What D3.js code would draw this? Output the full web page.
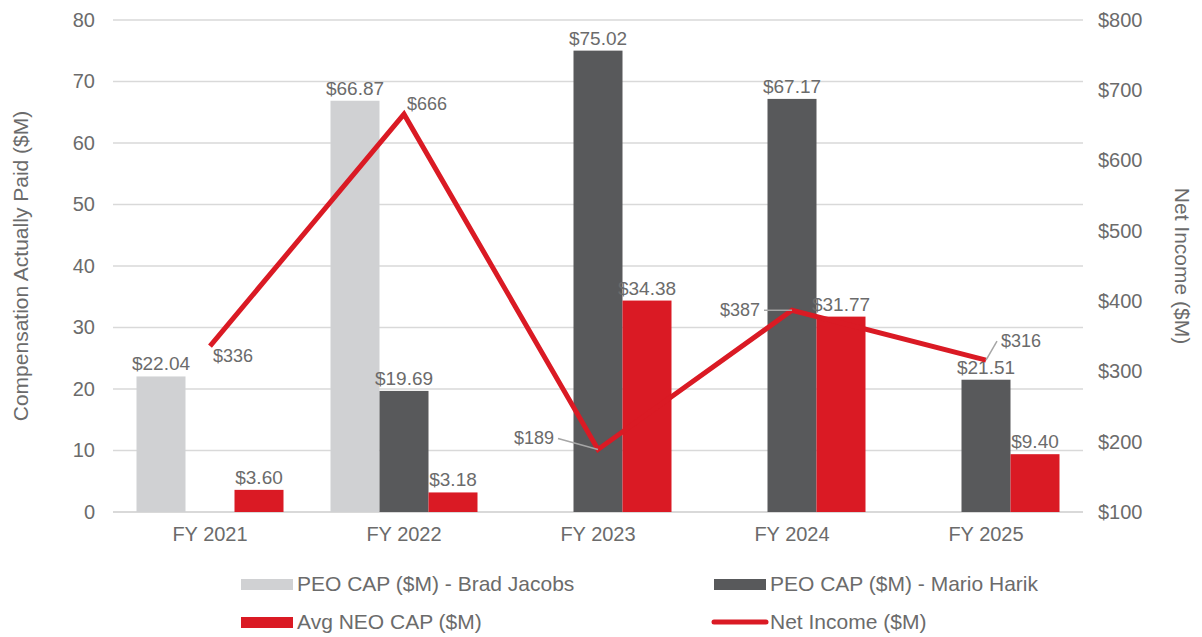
<!DOCTYPE html>
<html>
<head>
<meta charset="utf-8">
<script src="https://cdn.jsdelivr.net/npm/d3@7"></script>
<style>
  body { margin: 0; background: #fff; }
  svg text { font-family: "Liberation Sans", Arial, sans-serif; fill: #6b6b6b; }
</style>
</head>
<body>
<svg id="chart" width="1202" height="637"></svg>
<script>
// data
var years = ["FY 2021", "FY 2022", "FY 2023", "FY 2024", "FY 2025"];
var jacobs = [22.04, 66.87, null, null, null];
var harik = [null, 19.69, 75.02, 67.17, 21.51];
var avgNeo = [3.60, 3.18, 34.38, 31.77, 9.40];
var netIncome = [336, 666, 189, 387, 316];
var leftTicks = [0, 10, 20, 30, 40, 50, 60, 70, 80];
var rightTicks = [100, 200, 300, 400, 500, 600, 700, 800];

var svg = d3.select("#chart");
var plotL = 113, plotR = 1083, plotT = 20, plotB = 512;

var x = d3.scaleBand().domain(years).range([plotL, plotR]);
var y = d3.scaleLinear().domain([0, 80]).range([plotB, plotT]);
var y2 = d3.scaleLinear().domain([100, 800]).range([plotB, plotT]);
var barW = 49;

// grid
svg.append("g").selectAll("line")
  .data(leftTicks)
  .enter().append("line")
    .attr("x1", plotL).attr("x2", plotR)
    .attr("y1", function (d) { return y(d); })
    .attr("y2", function (d) { return y(d); })
    .attr("stroke", "#d9d9d9")
    .attr("stroke-width", function (d) { return d == 0 ? 2 : 1.5; });

// left axis
var yAxis = d3.axisLeft(y).tickValues(leftTicks).tickSize(0).tickPadding(18);
var gy = svg.append("g").attr("transform", "translate(" + plotL + ",0)").call(yAxis);
gy.select(".domain").remove();
gy.selectAll("text").style("font-size", "20px").attr("fill", "#6b6b6b");

// right axis
var yAxis2 = d3.axisRight(y2).tickValues(rightTicks).tickSize(0).tickPadding(15)
  .tickFormat(function (d) { return "$" + d; });
var gy2 = svg.append("g").attr("transform", "translate(" + plotR + ",0)").call(yAxis2);
gy2.select(".domain").remove();
gy2.selectAll("text").style("font-size", "20px").attr("fill", "#6b6b6b");

// x axis
var xAxis = d3.axisBottom(x).tickSize(0).tickPadding(15);
var gx = svg.append("g").attr("transform", "translate(0," + plotB + ")").call(xAxis);
gx.select(".domain").remove();
gx.selectAll("text").style("font-size", "20px").attr("fill", "#6b6b6b");

// axis titles
svg.append("text")
  .attr("transform", "translate(28," + ((plotT + plotB) / 2) + ") rotate(-90)")
  .attr("text-anchor", "middle")
  .style("font-size", "21px")
  .text("Compensation Actually Paid ($M)");
svg.append("text")
  .attr("transform", "translate(1175," + ((plotT + plotB) / 2) + ") rotate(90)")
  .attr("text-anchor", "middle")
  .style("font-size", "21px")
  .text("Net Income ($M)");

// bars
var series = [
  { vals: jacobs, color: "#d0d1d3", off: -1.5 },
  { vals: harik, color: "#58595b", off: -0.5 },
  { vals: avgNeo, color: "#da1a24", off: 0.5 }
];
series.forEach(function (s) {
  var data = years.map(function (yr, i) { return { yr: yr, v: s.vals[i] }; })
    .filter(function (d) { return d.v != null; });
  var g = svg.append("g");
  g.selectAll("rect").data(data).enter().append("rect")
    .attr("x", function (d) { return x(d.yr) + x.bandwidth() / 2 + s.off * barW; })
    .attr("y", function (d) { return y(d.v); })
    .attr("width", barW)
    .attr("height", function (d) { return plotB - y(d.v); })
    .attr("fill", s.color);
  g.selectAll("text").data(data).enter().append("text")
    .attr("x", function (d) { return x(d.yr) + x.bandwidth() / 2 + (s.off + 0.5) * barW; })
    .attr("y", function (d) { return y(d.v) - 6; })
    .attr("text-anchor", "middle")
    .style("font-size", "19px")
    .text(function (d) { return "$" + d.v.toFixed(2); });
});

// net income line
var pts = years.map(function (yr, i) {
  return [x(yr) + x.bandwidth() / 2, y2(netIncome[i])];
});
svg.append("path")
  .attr("d", d3.line()(pts))
  .attr("fill", "none")
  .attr("stroke", "#da1a24")
  .attr("stroke-width", 5)
  .attr("stroke-linejoin", "miter");

// line labels: [dx, dy, anchor, leader]
var lblPos = [
  [3, 16, "start", false],
  [3, -4, "start", false],
  [-44, -5, "end", true],
  [-32, 6, "end", true],
  [15, -13, "start", true]
];
pts.forEach(function (p, i) {
  var o = lblPos[i];
  if (o[3]) {
    var lx = o[2] == "end" ? p[0] + o[0] + 4 : p[0] + o[0] - 4;
    svg.append("line")
      .attr("x1", lx).attr("y1", p[1] + o[1] - 6)
      .attr("x2", p[0]).attr("y2", p[1])
      .attr("stroke", "#a6a6a6").attr("stroke-width", 1.5);
  }
  svg.append("text")
    .attr("x", p[0] + o[0])
    .attr("y", p[1] + o[1])
    .attr("text-anchor", o[2])
    .style("font-size", "18px")
    .text("$" + netIncome[i]);
});

// legend
var legend = [
  { name: "PEO CAP ($M) - Brad Jacobs", color: "#d0d1d3", type: "rect", x: 241, y: 584 },
  { name: "PEO CAP ($M) - Mario Harik", color: "#58595b", type: "rect", x: 714, y: 584 },
  { name: "Avg NEO CAP ($M)", color: "#da1a24", type: "rect", x: 241, y: 622 },
  { name: "Net Income ($M)", color: "#da1a24", type: "line", x: 714, y: 622 }
];
legend.forEach(function (l) {
  if (l.type == "rect") {
    svg.append("rect").attr("x", l.x).attr("y", l.y - 5).attr("width", 52).attr("height", 11).attr("fill", l.color);
  } else {
    svg.append("line").attr("x1", l.x).attr("x2", l.x + 52).attr("y1", l.y).attr("y2", l.y)
      .attr("stroke", l.color).attr("stroke-width", 5).attr("stroke-linecap", "round");
  }
  svg.append("text")
    .attr("x", l.x + 56)
    .attr("y", l.y + 7)
    .style("font-size", "21px")
    .text(l.name);
});
</script>
</body>
</html>
